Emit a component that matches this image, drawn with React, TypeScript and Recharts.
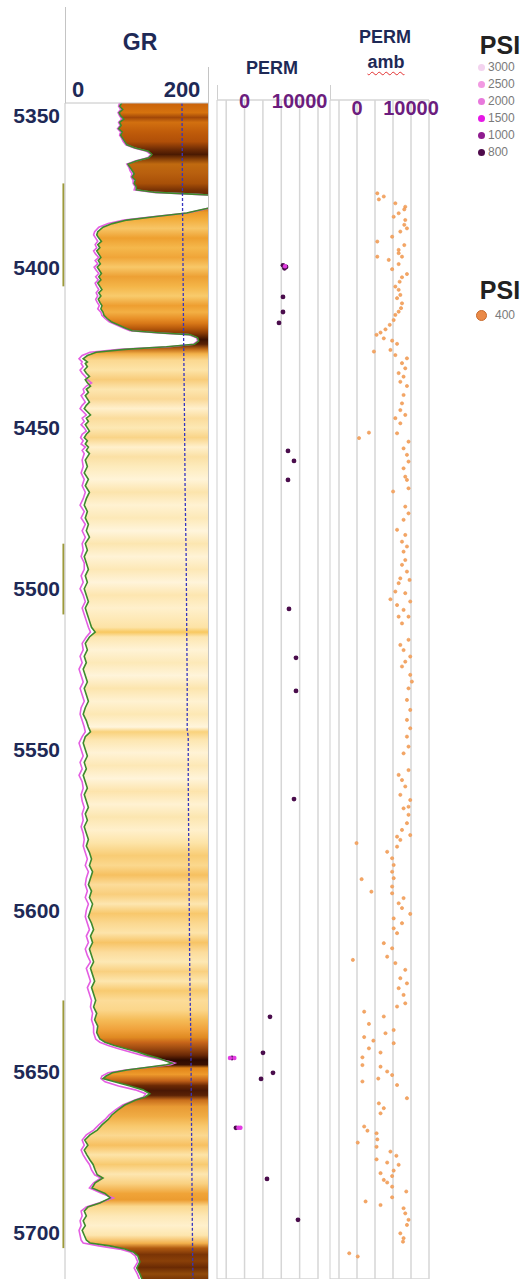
import React from "react"
import {
  ComposedChart,
  Area,
  Line,
  Scatter,
  XAxis,
  YAxis,
  CartesianGrid,
  ReferenceLine,
} from "recharts"

const W = 527
const H = 1279
const FONT = '"Liberation Sans", Arial, sans-serif'
const NAVY = "#1e2956"
const PURPLE = "#6c1d7e"

// depth range shared by all tracks (ft)
const GR_TOP = 5349
const PERM_TOP = 5348.1
const DEPTH_BOTTOM = 5714.6

const depthTicks = [5350, 5400, 5450, 5500, 5550, 5600, 5650, 5700]
const grTicks = [0, 200]
const permDecades = [1, 10, 100, 1000, 10000, 100000]
const permTickValues = [10, 10000]
const permTickText = ["0", "10000"]

// [depth, GR (green), GR (pink)]
const grLog: [number, number, number][] = [
  [5349, 84, 80], [5350, 80, 78], [5351, 86, 82], [5352, 79, 77], [5353, 82, 80],
  [5354, 88, 84], [5355, 80, 78], [5356, 83, 81], [5357, 78, 76], [5358, 85, 82],
  [5359, 82, 80], [5360, 86, 84], [5361, 90, 87], [5362, 94, 92], [5363, 110, 108],
  [5364, 135, 132], [5365, 142, 140], [5366, 136, 134], [5367, 112, 110], [5368, 96, 94],
  [5369, 100, 98], [5370, 104, 100], [5371, 108, 104], [5372, 104, 102], [5373, 110, 106],
  [5374, 108, 106], [5375, 112, 110], [5376, 112, 108], [5376.8, 150, 146], [5377.4, 230, 228],
  [5377.8, 270, 270], [5381.2, 270, 270], [5381.7, 250, 252], [5382.5, 228, 230], [5383.2, 209, 210],
  [5384.3, 150, 148], [5385.4, 94, 88], [5386.5, 66, 58], [5387.6, 48, 40], [5389, 38, 32],
  [5390, 36, 30], [5391, 40, 34], [5392, 45, 38], [5393, 38, 33], [5394, 42, 36],
  [5395, 36, 30], [5396, 40, 34], [5397, 44, 40], [5398, 39, 33], [5399, 43, 38],
  [5400, 37, 31], [5401, 41, 35], [5402, 45, 40], [5403, 40, 34], [5404, 44, 39],
  [5405, 38, 33], [5406, 42, 36], [5407, 46, 40], [5408, 40, 35], [5409, 44, 38],
  [5410, 39, 34], [5411, 42, 37], [5412, 46, 41], [5413, 44, 38], [5414, 48, 44],
  [5415, 50, 46], [5416, 56, 52], [5417, 64, 60], [5418, 78, 74], [5419, 92, 88],
  [5419.8, 104, 100], [5420.5, 160, 155], [5421, 215, 212], [5422, 230, 228], [5423, 232, 230],
  [5424, 224, 222], [5424.8, 170, 175], [5425.6, 90, 80], [5426.5, 35, 23], [5427.5, 18, 8],
  [5428.5, 10, 2], [5429.5, 18, 8], [5430, 14, 6], [5431, 18, 10], [5432, 12, 4],
  [5433, 16, 8], [5434, 22, 14], [5435, 14, 18], [5436, 18, 26], [5437, 24, 16],
  [5438, 16, 10], [5439, 20, 12], [5440, 14, 6], [5441, 18, 10], [5442, 22, 14],
  [5443, 16, 8], [5444, 12, 4], [5445, 18, 10], [5446, 24, 16], [5447, 16, 8],
  [5448, 20, 12], [5449, 14, 6], [5450, 18, 12], [5451, 22, 16], [5452, 16, 8],
  [5453, 12, 5], [5454, 18, 10], [5455, 14, 6], [5456, 20, 14], [5457, 16, 8],
  [5458, 22, 12], [5459, 18, 10], [5460, 14, 8], [5462, 18, 10], [5464, 12, 6],
  [5466, 20, 12], [5468, 14, 8], [5470, 22, 14], [5472, 16, 10], [5474, 12, 4],
  [5476, 18, 12], [5478, 14, 6], [5480, 20, 14], [5482, 16, 8], [5484, 22, 14],
  [5486, 14, 8], [5488, 18, 10], [5490, 12, 6], [5492, 16, 12], [5494, 20, 12],
  [5496, 14, 6], [5498, 18, 10], [5500, 12, 4], [5502, 16, 10], [5504, 20, 14],
  [5506, 14, 8], [5508, 18, 12], [5510, 22, 16], [5512, 26, 20], [5513.5, 33, 24],
  [5515, 22, 16], [5517, 14, 8], [5519, 18, 10], [5521, 12, 4], [5523, 16, 8],
  [5525, 10, 2], [5527, 14, 6], [5529, 18, 10], [5531, 12, 4], [5533, 16, 8],
  [5535, 20, 12], [5537, 14, 6], [5539, 10, 4], [5541, 16, 8], [5543, 20, 12],
  [5544.5, 24, 14], [5546, 14, 8], [5548, 10, 2], [5550, 14, 6], [5552, 18, 10],
  [5554, 12, 4], [5556, 16, 8], [5558, 10, 2], [5560, 14, 8], [5562, 18, 10],
  [5564, 12, 6], [5566, 16, 8], [5568, 20, 12], [5570, 14, 8], [5572, 18, 10],
  [5574, 12, 6], [5576, 16, 10], [5578, 20, 12], [5580, 16, 10], [5582, 22, 14],
  [5584, 26, 18], [5586, 22, 14], [5588, 28, 20], [5590, 24, 16], [5592, 20, 14],
  [5594, 26, 18], [5596, 22, 14], [5598, 28, 20], [5600, 24, 16], [5602, 20, 14],
  [5604, 26, 18], [5606, 30, 22], [5608, 24, 16], [5610, 28, 20], [5612, 22, 14],
  [5614, 26, 18], [5616, 30, 24], [5618, 24, 16], [5620, 28, 20], [5622, 32, 24],
  [5624, 26, 18], [5626, 30, 22], [5628, 34, 26], [5630, 30, 24], [5632, 36, 28],
  [5634, 32, 26], [5636, 38, 30], [5638, 36, 30], [5640, 42, 34], [5641, 52, 42],
  [5642, 70, 58], [5643, 92, 78], [5644, 115, 100], [5645, 133, 122], [5646, 155, 148],
  [5647, 172, 176], [5647.5, 181, 186], [5648, 170, 178], [5648.7, 138, 140], [5649.6, 94, 92],
  [5650.5, 66, 58], [5651.5, 54, 46], [5652.3, 48, 44], [5653.3, 70, 52], [5654.6, 100, 78],
  [5655.8, 125, 110], [5657, 138, 130], [5658, 129, 126], [5659, 110, 108], [5660.5, 90, 86],
  [5662, 77, 72], [5663.6, 65, 60], [5665, 58, 52], [5666.7, 46, 40], [5668.3, 37, 30],
  [5669.8, 23, 16], [5671.4, 13, 8], [5673, 19, 12], [5674.5, 12, 6], [5676, 17, 10],
  [5677.6, 23, 16], [5679, 29, 22], [5680.7, 33, 26], [5682.2, 37, 32], [5683.2, 48, 44],
  [5684.7, 33, 30], [5686.3, 27, 22], [5688, 52, 46], [5689.4, 62, 68], [5691, 42, 40],
  [5692.2, 19, 16], [5693.5, 12, 6], [5695, 16, 8], [5696.5, 10, 4], [5698, 14, 6],
  [5699.5, 8, 2], [5701, 12, 4], [5702.5, 16, 6], [5703.4, 23, 10], [5704.3, 61, 40],
  [5705.3, 90, 80], [5706.2, 106, 100], [5707.4, 115, 110], [5709.3, 119, 115], [5711.2, 113, 108],
  [5713, 119, 114], [5714.6, 123, 118],
]

// second GR-scale curve (dashed blue)
const calLog: [number, number][] = [
  [5349, 200], [5380, 201], [5400, 202], [5420, 203], [5450, 205], [5470, 206],
  [5490, 208], [5510, 209], [5530, 210], [5544, 210], [5546, 212], [5560, 212],
  [5580, 213], [5600, 214], [5620, 215], [5640, 217], [5660, 218], [5680, 219],
  [5700, 220], [5714.6, 221],
]

// flag intervals drawn beside the GR track
const flagIntervals: [number, number][] = [
  [5374, 5406],
  [5486, 5508],
  [5628, 5705],
]

// heat colour along depth, filled from the GR curve to the track edge
const heatStops: [number, string][] = [
  [5349, "#c9620a"], [5352, "#d6730e"], [5353.5, "#a24808"], [5355, "#d27010"], [5358, "#c05c0a"],
  [5361, "#b04f08"], [5363.5, "#6b2a05"], [5365, "#4a1a02"], [5366.5, "#8a4208"], [5368, "#c06a10"],
  [5371, "#b85f0e"], [5374, "#a85008"], [5376, "#7a3305"], [5380, "#4a1a04"], [5381.5, "#c8701a"],
  [5383, "#ec9a28"], [5385, "#f2ac3a"], [5388, "#f7c566"], [5391, "#eea030"], [5394, "#f5b84c"],
  [5397, "#f0a538"], [5400, "#f8c868"], [5403, "#eda034"], [5406, "#f4b548"], [5409, "#f8cb6c"],
  [5412, "#ee9e30"], [5414, "#f3b044"], [5416, "#e89028"], [5417.5, "#d87818"], [5419, "#b85a0c"],
  [5420.5, "#8a3c06"], [5422.5, "#3c1202"], [5424, "#5a2206"], [5425.5, "#c06a18"], [5427, "#f3b24a"],
  [5429, "#fbd890"], [5432, "#fde4a8"], [5435, "#f8cc7a"], [5438, "#fde6b0"], [5441, "#fad896"],
  [5444, "#fff0cc"], [5447, "#fbdc9c"], [5450, "#fde8b4"], [5453, "#f9d488"], [5456, "#fff0cc"],
  [5459, "#fbe0a4"], [5462, "#fdebbc"], [5466, "#fff4d8"], [5470, "#fce4ac"], [5474, "#fff2d2"],
  [5478, "#fde9b8"], [5482, "#fff5dc"], [5486, "#fce6b0"], [5490, "#fff3d6"], [5494, "#fde8b6"],
  [5498, "#fff4da"], [5502, "#fde6b0"], [5506, "#fff0cc"], [5512, "#fde3a6"], [5513.5, "#f8c860"],
  [5515, "#fde6b0"], [5519, "#fff3d6"], [5523, "#fde9b8"], [5527, "#fff4da"], [5531, "#fce5ae"],
  [5535, "#fff2d2"], [5539, "#fde8b4"], [5543, "#fff5dc"], [5544.5, "#f9d27c"], [5547, "#fde6b0"],
  [5551, "#fff3d6"], [5555, "#fde8b6"], [5559, "#fff4da"], [5563, "#fde4ac"], [5567, "#fff2d2"],
  [5571, "#fce6b0"], [5575, "#fff0cc"], [5579, "#fde4a8"], [5583, "#f8cc74"], [5586, "#fbd88e"],
  [5589, "#f6c060"], [5592, "#fcdc9a"], [5595, "#f9ce7c"], [5598, "#fde6b0"], [5601, "#f8c86c"],
  [5604, "#fbd890"], [5607, "#fde4aa"], [5610, "#f7c466"], [5613, "#fcdc9c"], [5616, "#fde8b4"],
  [5619, "#f9d080"], [5622, "#fde6ae"], [5625, "#f8ca70"], [5628, "#fcdc98"], [5631, "#fbd68a"],
  [5634, "#f5bc58"], [5637, "#f0a23c"], [5639.5, "#e08a22"], [5641, "#c8661a"], [5643, "#9a4810"],
  [5645, "#6a2806"], [5646.5, "#2e0a00"], [5648, "#3a1002"], [5649, "#e08418"], [5651, "#ee9a2c"],
  [5653, "#c06018"], [5654.5, "#6a2804"], [5656, "#4a1804"], [5657.5, "#5a2206"], [5659, "#c86e1c"],
  [5661, "#e89a34"], [5664, "#f0ac44"], [5667, "#f8c86c"], [5670, "#fbd890"], [5673, "#f7c060"],
  [5676, "#fde4a8"], [5679, "#f8ca70"], [5682, "#fde6b0"], [5685, "#f9d080"], [5688, "#f0a438"],
  [5690, "#ec9c30"], [5692, "#fbd88e"], [5695, "#fde8b6"], [5698, "#fff0cc"], [5701, "#fde6ae"],
  [5703.5, "#f2b04c"], [5705, "#b05a10"], [5707, "#7a3406"], [5709, "#8a4008"], [5711, "#6a2a04"],
  [5713, "#904a0a"], [5714.6, "#7a3806"],
]

// [depth, perm] core measurements
const permLog: [number, number][] = [
  [5399.5, 1240], [5400.0, 1810], [5400.4, 1500], [5409.3, 1240], [5414.0, 1240],
  [5417.4, 752], [5457.2, 2320], [5460.3, 4930], [5466.2, 2320], [5506.3, 2630],
  [5521.5, 6330], [5531.8, 6330], [5565.4, 4930], [5633.1, 243], [5644.3, 101],
  [5645.9, 2.07], [5650.5, 354], [5652.4, 79], [5667.6, 3.4], [5683.5, 167],
  [5696.2, 8130],
]
const permHighPsi: [number, number][] = [
  [5645.9, 1.6], [5645.9, 2.8], [5667.6, 4.6], [5667.6, 6.0], [5399.8, 1600],
]

// [depth, perm] ambient
const permAmbLog: [number, number][] = [
  [5377.1, 134], [5378.1, 308], [5379.0, 164], [5380.2, 1350], [5381.3, 4800],
  [5382.1, 4230], [5383.3, 2060], [5384.4, 1090], [5385.4, 4800], [5386.9, 4230],
  [5388.0, 5960], [5389.0, 2550], [5390.6, 893], [5392.1, 134], [5393.2, 4230],
  [5394.7, 2060], [5395.7, 2060], [5396.8, 3160], [5396.8, 134], [5397.8, 580],
  [5399.1, 2060], [5400.7, 893], [5402.2, 5960], [5403.2, 3160], [5404.6, 2340],
  [5406.1, 1350], [5407.1, 2060], [5408.7, 2550], [5409.7, 1680], [5411.3, 3160],
  [5412.8, 2790], [5413.9, 2060], [5414.9, 1350], [5416.5, 1090], [5418.0, 659],
  [5419.4, 382], [5420.4, 203], [5421.1, 122], [5422.2, 308], [5422.9, 893],
  [5423.9, 1680], [5425.8, 720], [5426.3, 87], [5427.4, 1350], [5428.4, 5960],
  [5429.9, 3160], [5431.5, 4800], [5433.0, 2060], [5434.1, 3870], [5435.7, 2550],
  [5437.0, 5960], [5439.8, 3870], [5442.4, 3160], [5444.5, 2550], [5446.0, 4800],
  [5447.0, 1350], [5448.6, 2550], [5451.5, 46], [5451.7, 1680], [5453.2, 13],
  [5454.3, 7290], [5456.4, 3870], [5458.4, 5960], [5460.5, 7290], [5462.6, 3870],
  [5465.2, 4800], [5466.2, 5960], [5468.8, 7290], [5469.8, 1010], [5474.5, 4800],
  [5476.6, 7290], [5478.6, 3870], [5481.7, 1680], [5483.3, 4800], [5485.4, 3160],
  [5486.9, 5960], [5488.5, 3870], [5491.1, 4800], [5492.6, 3160], [5494.7, 5960],
  [5496.8, 2550], [5497.3, 8280], [5498.3, 2060], [5500.9, 1350], [5501.4, 4800],
  [5503.3, 720], [5504.0, 9040], [5505.1, 1680], [5506.6, 3870], [5508.7, 7290],
  [5508.7, 2060], [5510.8, 3160], [5515.9, 7290], [5517.5, 2550], [5519.1, 3870],
  [5521.1, 9040], [5522.7, 4800], [5524.2, 3160], [5526.8, 9040], [5528.9, 11200],
  [5531.0, 7290], [5534.6, 5960], [5537.7, 9040], [5540.8, 5960], [5543.4, 9040],
  [5546.0, 5960], [5549.1, 7290], [5551.2, 3870], [5556.4, 7290], [5557.9, 2060],
  [5559.5, 3160], [5561.5, 4800], [5564.1, 2550], [5565.7, 9040], [5567.8, 7290],
  [5568.3, 3870], [5570.3, 7290], [5572.9, 5960], [5575.0, 3160], [5576.6, 9040],
  [5577.1, 1680], [5578.1, 2550], [5579.1, 9.4], [5580.2, 1680], [5581.8, 474],
  [5583.8, 893], [5585.9, 1090], [5588.0, 893], [5590.0, 1090], [5590.3, 18],
  [5592.6, 893], [5594.2, 63], [5594.7, 893], [5596.2, 3870], [5597.8, 2060],
  [5599.3, 3160], [5601.1, 9040], [5602.5, 1090], [5604.0, 3160], [5605.6, 1090],
  [5607.1, 1680], [5610.2, 308], [5611.8, 893], [5614.4, 474], [5615.4, 5.9],
  [5616.4, 1350], [5618.5, 4800], [5621.1, 2550], [5622.7, 5960], [5624.2, 2060],
  [5626.3, 3870], [5628.9, 4800], [5629.9, 1680], [5631.5, 25], [5633.0, 308],
  [5635.3, 46], [5637.2, 1090], [5638.2, 382], [5639.4, 25], [5640.5, 81],
  [5641.3, 1090], [5642.9, 46], [5644.2, 203], [5645.7, 20], [5648.1, 20],
  [5648.6, 203], [5650.1, 474], [5651.2, 893], [5652.3, 152], [5653.2, 20],
  [5654.3, 1680], [5658.4, 5960], [5660.0, 164], [5661.5, 308], [5663.1, 203],
  [5667.2, 25], [5668.5, 38], [5669.3, 122], [5671.2, 134], [5672.2, 11],
  [5673.5, 122], [5675.0, 720], [5676.3, 1540], [5677.4, 122], [5678.4, 474],
  [5679.1, 2060], [5680.9, 1090], [5681.7, 203], [5682.6, 893], [5683.8, 308],
  [5684.6, 474], [5685.9, 893], [5687.4, 5450], [5689.2, 893], [5690.5, 30],
  [5691.6, 203], [5692.6, 3870], [5694.2, 4800], [5696.2, 7290], [5697.8, 5960],
  [5700.4, 2550], [5701.9, 3870], [5703.0, 3590], [5706.6, 3.7], [5707.6, 11],
]

// pressure legends
const psiLevels = ["3000", "2500", "2000", "1500", "1000", "800"]
const psiColors = ["#f3d3ef", "#f29ae2", "#e878dc", "#e617e6", "#8f1c8f", "#4e0b4b"]
const ambLevels = ["400"]
const ambColors = ["#ea8a48"]

const grRows = grLog.map(([depth, green, pink]) => ({ depth, green, pink }))
const calRows = calLog.map(([depth, cal]) => ({ depth, cal }))
const permRows = permLog.map(([depth, perm]) => ({ depth, perm }))
const permHighRows = permHighPsi.map(([depth, perm]) => ({ depth, perm }))
const permAmbRows = permAmbLog.map(([depth, perm]) => ({ depth, perm }))

const DepthTick = ({ y, payload }: any) => (
  <text
    x={60}
    y={y + (payload.value === depthTicks[0] ? 9 : 0)}
    dy="0.36em"
    textAnchor="end"
    fill={NAVY}
    fontSize={21}
    fontWeight="bold"
    fontFamily={FONT}
  >
    {payload.value}
  </text>
)

const GrTick = ({ x, payload }: any) => (
  <text x={x} y={97} textAnchor="middle" fill={NAVY} fontSize={22} fontWeight="bold" fontFamily={FONT}>
    {payload.value}
  </text>
)

const makePermTick = (baseline: number) => ({ x, payload }: any) => {
  const i = permTickValues.findIndex((v) => Math.abs(v - payload.value) / v < 1e-6)
  if (i < 0) return <g />
  return (
    <text x={x} y={baseline} textAnchor="middle" fill={PURPLE} fontSize={20} fontWeight="bold" fontFamily={FONT}>
      {permTickText[i]}
    </text>
  )
}

function GrTrack() {
  const span = DEPTH_BOTTOM - GR_TOP
  return (
    <ComposedChart
      layout="vertical"
      width={W}
      height={H}
      data={grRows}
      margin={{ top: 75, right: W - 208, bottom: 0, left: 0 }}
    >
      <defs>
        <linearGradient id="grHeat" x1="0" y1="0" x2="0" y2="1">
          {heatStops.map(([d, c]) => (
            <stop key={d} offset={(d - GR_TOP) / span} stopColor={c} />
          ))}
        </linearGradient>
      </defs>
      <XAxis
        type="number"
        orientation="top"
        domain={[-25, 250]}
        ticks={grTicks}
        interval={0}
        allowDataOverflow
        height={28}
        axisLine={{ stroke: "#c4c4c4" }}
        tickLine={false}
        tick={<GrTick />}
      />
      <YAxis
        type="number"
        dataKey="depth"
        domain={[GR_TOP, DEPTH_BOTTOM]}
        ticks={depthTicks}
        interval={0}
        allowDataOverflow
        width={65}
        axisLine={{ stroke: "#c4c4c4" }}
        tickLine={false}
        tick={<DepthTick />}
      />
      <Area
        dataKey={(r: any) => [r.green, 250]}
        type="linear"
        stroke="none"
        fill="url(#grHeat)"
        fillOpacity={1}
        isAnimationActive={false}
      />
      <Line dataKey="pink" type="linear" stroke="#e45ee2" strokeWidth={1.6} dot={false} isAnimationActive={false} />
      <Line dataKey="green" type="linear" stroke="#3f8a2c" strokeWidth={1.6} dot={false} isAnimationActive={false} />
      <Line
        data={calRows}
        dataKey="cal"
        type="linear"
        stroke="#3535c0"
        strokeWidth={1.3}
        strokeDasharray="3 2"
        dot={false}
        isAnimationActive={false}
      />
      {flagIntervals.map(([a, b]) => (
        <ReferenceLine
          key={a}
          segment={[{ x: -28, y: a }, { x: -28, y: b }]}
          stroke="#9d9a3a"
          strokeWidth={2}
          ifOverflow="visible"
        />
      ))}
    </ComposedChart>
  )
}

function PermTrack(props: {
  left: number
  right: number
  labelY: number
  children: React.ReactNode
}) {
  const { left, right, labelY, children } = props
  return (
    <ComposedChart
      layout="vertical"
      width={W}
      height={H}
      margin={{ top: 80, right: W - right, bottom: 0, left: left - 4 }}
    >
      <CartesianGrid stroke="#d6d6d6" strokeWidth={1.5} vertical={false} />
      {permDecades.map((v) => (
        <ReferenceLine key={v} x={v} stroke="#d6d6d6" strokeWidth={1.5} />
      ))}
      <XAxis
        type="number"
        dataKey="perm"
        scale="log"
        orientation="top"
        domain={[0.316, 100000]}
        ticks={permDecades}
        interval={0}
        allowDataOverflow
        height={20}
        axisLine={false}
        tickLine={false}
        tick={makePermTick(labelY)}
      />
      <YAxis
        type="number"
        dataKey="depth"
        domain={[PERM_TOP, DEPTH_BOTTOM]}
        ticks={depthTicks}
        interval={0}
        allowDataOverflow
        width={4}
        tickSize={4}
        axisLine={{ stroke: "#cfcfcf" }}
        tickLine={{ stroke: "#bdbdbd" }}
        tick={false}
      />
      {children}
    </ComposedChart>
  )
}

const dot = (r: number, fill: string, stroke?: string) => (p: any) => (
  <circle cx={p.cx} cy={p.cy} r={r} fill={fill} stroke={stroke ?? "none"} strokeWidth={0.6} />
)

const layer: React.CSSProperties = { position: "absolute", left: 0, top: 0 }

const Label = (p: { x: number; y: number; size: number; color?: string; children: React.ReactNode; style?: React.CSSProperties }) => (
  <div
    style={{
      position: "absolute",
      left: p.x,
      top: p.y,
      transform: "translate(-50%, -50%)",
      fontFamily: FONT,
      fontWeight: "bold",
      fontSize: p.size,
      lineHeight: 1,
      color: p.color ?? NAVY,
      whiteSpace: "nowrap",
      ...p.style,
    }}
  >
    {p.children}
  </div>
)

const vline = (x: number, y1: number, y2: number, color = "#c4c4c4") => (
  <div style={{ position: "absolute", left: x, top: y1, width: 1, height: y2 - y1, background: color }} />
)

export default function App() {
  return (
    <div style={{ position: "absolute", left: 0, top: 0, width: W, height: H, background: "#fff", overflow: "hidden" }}>
      {/* track frames above the plot areas */}
      {vline(65, 7, 103)}
      {vline(208, 67, H)}
      {vline(217, 85, 100, "#cfcfcf")}
      {vline(330, 85, 100, "#cfcfcf")}

      <div style={layer}>
        <GrTrack />
      </div>
      <div style={layer}>
        <PermTrack left={217} right={318} labelY={108}>
          <Scatter data={permRows} shape={dot(2.4, "#4a0d4c")} isAnimationActive={false} />
          <Scatter data={permHighRows} shape={dot(2.2, "#e23be2")} isAnimationActive={false} />
        </PermTrack>
      </div>
      <div style={layer}>
        <PermTrack left={330} right={429} labelY={115}>
          <Scatter data={permAmbRows} shape={dot(1.6, "#f4a765", "#ec9550")} isAnimationActive={false} />
        </PermTrack>
      </div>

      <Label x={140} y={42} size={23}>GR</Label>
      <Label x={272} y={68} size={18}>PERM</Label>
      <Label x={385} y={37} size={18}>PERM</Label>
      <Label
        x={386}
        y={62}
        size={18}
        style={{ textDecoration: "underline wavy #e23030", textDecorationThickness: 1, textUnderlineOffset: 3 }}
      >
        amb
      </Label>

      <Label x={500} y={45} size={25} color="#222">PSI</Label>
      {psiLevels.map((lv, i) => (
        <div key={lv} style={{ position: "absolute", left: 478, top: 61 + i * 17, display: "flex", alignItems: "center", height: 12 }}>
          <span style={{ width: 7, height: 7, borderRadius: "50%", background: psiColors[i], marginRight: 3 }} />
          <span style={{ fontFamily: FONT, fontSize: 12, color: "#7a7a7a" }}>{lv}</span>
        </div>
      ))}

      <Label x={500} y={290} size={25} color="#222">PSI</Label>
      {ambLevels.map((lv, i) => (
        <div key={lv} style={{ position: "absolute", left: 476, top: 308 + i * 17, display: "flex", alignItems: "center", height: 14 }}>
          <span style={{ width: 11, height: 11, borderRadius: "50%", background: ambColors[i], border: "1px solid #c86a2c", boxSizing: "border-box", marginRight: 8 }} />
          <span style={{ fontFamily: FONT, fontSize: 12, color: "#7a7a7a" }}>{lv}</span>
        </div>
      ))}
    </div>
  )
}
